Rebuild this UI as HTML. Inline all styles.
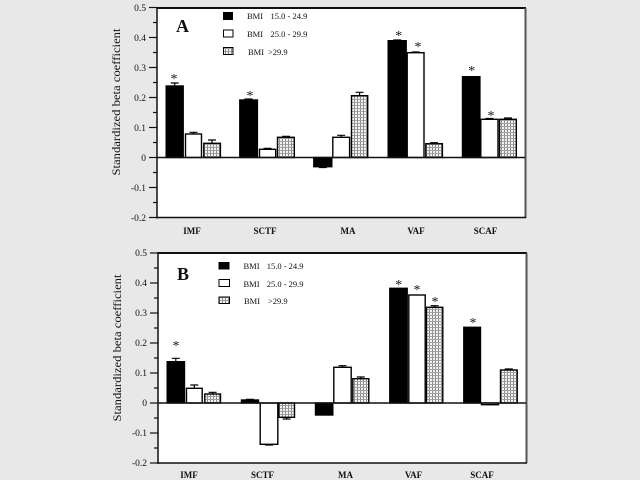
<!DOCTYPE html>
<html><head><meta charset="utf-8">
<style>
html,body{margin:0;padding:0;background:#e8e8e8;}
svg{display:block;}
text{font-family:"Liberation Serif",serif;fill:#111;}
</style></head>
<body>
<svg width="640" height="480" viewBox="0 0 640 480" xmlns="http://www.w3.org/2000/svg">
<defs>
<pattern id="h" width="3" height="3" patternUnits="userSpaceOnUse">
<rect width="3" height="3" fill="#f4f4f4"/>
<rect x="0" y="0" width="1" height="3" fill="#8a8a8a"/>
<rect x="0" y="0" width="3" height="1" fill="#a0a0a0"/>
</pattern>
</defs>
<rect width="640" height="480" fill="#e8e8e8"/>

<!-- ================= PANEL A ================= -->
<rect x="157" y="8" width="369" height="210" fill="#fff"/>
<line x1="157" y1="8" x2="526" y2="8" stroke="#111" stroke-width="2"/>
<line x1="525.5" y1="8" x2="525.5" y2="218" stroke="#555" stroke-width="2"/>
<line x1="157" y1="217.5" x2="526" y2="217.5" stroke="#111" stroke-width="1.5"/>
<line x1="157" y1="7" x2="157" y2="218.5" stroke="#111" stroke-width="1.5"/>
<g stroke="#111" stroke-width="1.2">
<line x1="149" y1="7.5" x2="157" y2="7.5"/><line x1="149" y1="37.5" x2="157" y2="37.5"/>
<line x1="149" y1="67.5" x2="157" y2="67.5"/><line x1="149" y1="97.5" x2="157" y2="97.5"/>
<line x1="149" y1="127.5" x2="157" y2="127.5"/><line x1="149" y1="157.5" x2="157" y2="157.5"/>
<line x1="149" y1="187.5" x2="157" y2="187.5"/><line x1="149" y1="217.5" x2="157" y2="217.5"/>
<line x1="153" y1="22.5" x2="157" y2="22.5"/><line x1="153" y1="52.5" x2="157" y2="52.5"/>
<line x1="153" y1="82.5" x2="157" y2="82.5"/><line x1="153" y1="112.5" x2="157" y2="112.5"/>
<line x1="153" y1="142.5" x2="157" y2="142.5"/><line x1="153" y1="172.5" x2="157" y2="172.5"/>
<line x1="153" y1="202.5" x2="157" y2="202.5"/>
</g>
<g font-size="9.5" text-anchor="end">
<text x="146" y="11">0.5</text><text x="146" y="41">0.4</text><text x="146" y="71">0.3</text>
<text x="146" y="101">0.2</text><text x="146" y="131">0.1</text><text x="146" y="161">0</text>
<text x="146" y="191">-0.1</text><text x="146" y="221">-0.2</text>
</g>
<text transform="translate(120,102) rotate(-90)" font-size="12" text-anchor="middle" textLength="147" lengthAdjust="spacingAndGlyphs">Standardized beta coefficient</text>
<text x="176" y="32" font-size="18" font-weight="bold">A</text>
<rect x="223" y="12" width="10" height="8" fill="#000"/>
<rect x="223.5" y="30" width="9.5" height="7" fill="#fff" stroke="#000" stroke-width="1"/>
<rect x="223.5" y="47.5" width="9.5" height="7" fill="url(#h)" stroke="#000" stroke-width="1"/>
<g font-size="8.5">
<text x="247" y="19">BMI</text><text x="270.5" y="19">15.0 - 24.9</text>
<text x="247" y="37">BMI</text><text x="270.5" y="37">25.0 - 29.9</text>
<text x="248" y="55">BMI</text><text x="268" y="55">&gt;29.9</text>
</g>
<g stroke="#000" stroke-width="1.4">
<rect x="166.2" y="86" width="17" height="71.5" fill="#000"/>
<rect x="185.5" y="134" width="16" height="23.5" fill="#fff"/>
<rect x="203.8" y="143.3" width="16.6" height="14.2" fill="url(#h)"/>

<rect x="239.8" y="100" width="17.6" height="57.5" fill="#000"/>
<rect x="259.5" y="149.3" width="16.2" height="8.2" fill="#fff"/>
<rect x="277.5" y="137.3" width="16.8" height="20.2" fill="url(#h)"/>

<rect x="313.8" y="157.5" width="18" height="9.2" fill="#000"/>
<rect x="332.8" y="137.3" width="16.8" height="20.2" fill="#fff"/>
<rect x="351.5" y="95.7" width="16.2" height="61.8" fill="url(#h)"/>

<rect x="388.2" y="40.7" width="18" height="116.8" fill="#000"/>
<rect x="407.2" y="52.7" width="16.8" height="104.8" fill="#fff"/>
<rect x="425.8" y="143.7" width="16.6" height="13.8" fill="url(#h)"/>

<rect x="462.5" y="76.7" width="17.4" height="80.8" fill="#000"/>
<rect x="480.8" y="119.3" width="17.2" height="38.2" fill="#fff"/>
<rect x="499.5" y="119.3" width="16.8" height="38.2" fill="url(#h)"/>
</g>
<line x1="157" y1="157.5" x2="525" y2="157.5" stroke="#111" stroke-width="1.5"/>
<g stroke="#000" stroke-width="1.2" fill="none">
<path d="M174.7 86V83M170.7 83h8"/>
<path d="M193.5 134V132.3M189.5 132.3h8"/>
<path d="M212 143.3V140M208 140h8"/>
<path d="M248.5 100V99M244.5 99h8"/>
<path d="M267.5 149.3V148.3M263.5 148.3h8"/>
<path d="M286 137.3V136.3M282 136.3h8"/>
<path d="M322.8 166.7V167.5M318.8 167.5h8"/>
<path d="M341.2 137.3V135.3M337.2 135.3h8"/>
<path d="M359.6 95.7V92.3M355.6 92.3h8"/>
<path d="M397.2 40.7V40M393.2 40h8"/>
<path d="M415.6 52.7V52M411.6 52h8"/>
<path d="M434 143.7V142.7M430 142.7h8"/>
<path d="M489.4 119.3V118.5M485.4 118.5h8"/>
<path d="M508 119.3V118M504 118h8"/>
</g>
<g font-size="14" text-anchor="middle">
<text x="174" y="83">*</text><text x="250" y="100">*</text>
<text x="398.7" y="40">*</text><text x="418" y="51">*</text>
<text x="471.7" y="75">*</text><text x="491" y="120">*</text>
</g>
<g font-size="9" font-weight="bold" text-anchor="middle">
<text x="192" y="234">IMF</text><text x="265" y="234">SCTF</text><text x="348" y="234">MA</text>
<text x="416" y="234">VAF</text><text x="485.5" y="234">SCAF</text>
</g>

<!-- ================= PANEL B ================= -->
<rect x="158" y="253" width="369" height="210" fill="#fff"/>
<line x1="158" y1="253" x2="527" y2="253" stroke="#111" stroke-width="2"/>
<line x1="526.5" y1="253" x2="526.5" y2="463" stroke="#555" stroke-width="2"/>
<line x1="158" y1="463" x2="527" y2="463" stroke="#111" stroke-width="1.5"/>
<line x1="158" y1="252" x2="158" y2="464" stroke="#111" stroke-width="1.5"/>
<g stroke="#111" stroke-width="1.2">
<line x1="150" y1="253" x2="158" y2="253"/><line x1="150" y1="283" x2="158" y2="283"/>
<line x1="150" y1="313" x2="158" y2="313"/><line x1="150" y1="343" x2="158" y2="343"/>
<line x1="150" y1="373" x2="158" y2="373"/><line x1="150" y1="403" x2="158" y2="403"/>
<line x1="150" y1="433" x2="158" y2="433"/><line x1="150" y1="463" x2="158" y2="463"/>
<line x1="154" y1="268" x2="158" y2="268"/><line x1="154" y1="298" x2="158" y2="298"/>
<line x1="154" y1="328" x2="158" y2="328"/><line x1="154" y1="358" x2="158" y2="358"/>
<line x1="154" y1="388" x2="158" y2="388"/><line x1="154" y1="418" x2="158" y2="418"/>
<line x1="154" y1="448" x2="158" y2="448"/>
</g>
<g font-size="9.5" text-anchor="end">
<text x="147" y="256">0.5</text><text x="147" y="286">0.4</text><text x="147" y="316">0.3</text>
<text x="147" y="346">0.2</text><text x="147" y="376">0.1</text><text x="147" y="406">0</text>
<text x="147" y="436">-0.1</text><text x="147" y="466">-0.2</text>
</g>
<text transform="translate(121,348) rotate(-90)" font-size="12" text-anchor="middle" textLength="147" lengthAdjust="spacingAndGlyphs">Standardized beta coefficient</text>
<text x="177" y="280" font-size="18" font-weight="bold">B</text>
<rect x="218.5" y="262" width="11" height="7.5" fill="#000"/>
<rect x="219" y="279.5" width="10.5" height="7" fill="#fff" stroke="#000" stroke-width="1"/>
<rect x="219" y="297" width="10.5" height="6.5" fill="url(#h)" stroke="#000" stroke-width="1"/>
<g font-size="8.5">
<text x="243.5" y="269">BMI</text><text x="266.7" y="269">15.0 - 24.9</text>
<text x="243.5" y="287">BMI</text><text x="266.7" y="287">25.0 - 29.9</text>
<text x="244" y="304">BMI</text><text x="268" y="304">&gt;29.9</text>
</g>
<g stroke="#000" stroke-width="1.4">
<rect x="167.2" y="361.7" width="17.3" height="41.3" fill="#000"/>
<rect x="186.5" y="388.3" width="15.7" height="14.7" fill="#fff"/>
<rect x="204.8" y="394" width="15.7" height="9" fill="url(#h)"/>

<rect x="241.5" y="400" width="17" height="3" fill="#000"/>
<rect x="260.2" y="403" width="17.6" height="41.3" fill="#fff"/>
<rect x="278.8" y="403" width="15.7" height="14.3" fill="url(#h)"/>

<rect x="315.5" y="403" width="17.3" height="12" fill="#000"/>
<rect x="333.8" y="367.3" width="17.4" height="35.7" fill="#fff"/>
<rect x="352.8" y="378.7" width="16" height="24.3" fill="url(#h)"/>

<rect x="389.8" y="288.3" width="17.4" height="114.7" fill="#000"/>
<rect x="408.8" y="295" width="16.4" height="108" fill="#fff"/>
<rect x="426.5" y="307.3" width="16.3" height="95.7" fill="url(#h)"/>

<rect x="463.8" y="327.3" width="16.7" height="75.7" fill="#000"/>
<rect x="481.5" y="403" width="17" height="1.7" fill="#fff"/>
<rect x="500.5" y="370" width="16.7" height="33" fill="url(#h)"/>
</g>
<line x1="158" y1="403" x2="526" y2="403" stroke="#111" stroke-width="1.5"/>
<g stroke="#000" stroke-width="1.2" fill="none">
<path d="M175.8 361.7V358.3M171.8 358.3h8"/>
<path d="M194.3 388.3V385M190.3 385h8"/>
<path d="M212.6 394V392.3M208.6 392.3h8"/>
<path d="M250 400V399.3M246 399.3h8"/>
<path d="M269 444.3V445M265 445h8"/>
<path d="M286.6 417.3V419M282.6 419h8"/>
<path d="M342.5 367.3V365.7M338.5 365.7h8"/>
<path d="M360.8 378.7V377M356.8 377h8"/>
<path d="M434.6 307.3V305.7M430.6 305.7h8"/>
<path d="M508.8 370V369M504.8 369h8"/>
</g>
<g font-size="14" text-anchor="middle">
<text x="176" y="350">*</text>
<text x="398.7" y="289">*</text><text x="417" y="294">*</text><text x="435" y="306">*</text>
<text x="473" y="327">*</text>
</g>
<g font-size="9" font-weight="bold" text-anchor="middle">
<text x="189" y="478">IMF</text><text x="262.5" y="478">SCTF</text><text x="345.5" y="478">MA</text>
<text x="413.5" y="478">VAF</text><text x="482" y="478">SCAF</text>
</g>
</svg>
</body></html>
